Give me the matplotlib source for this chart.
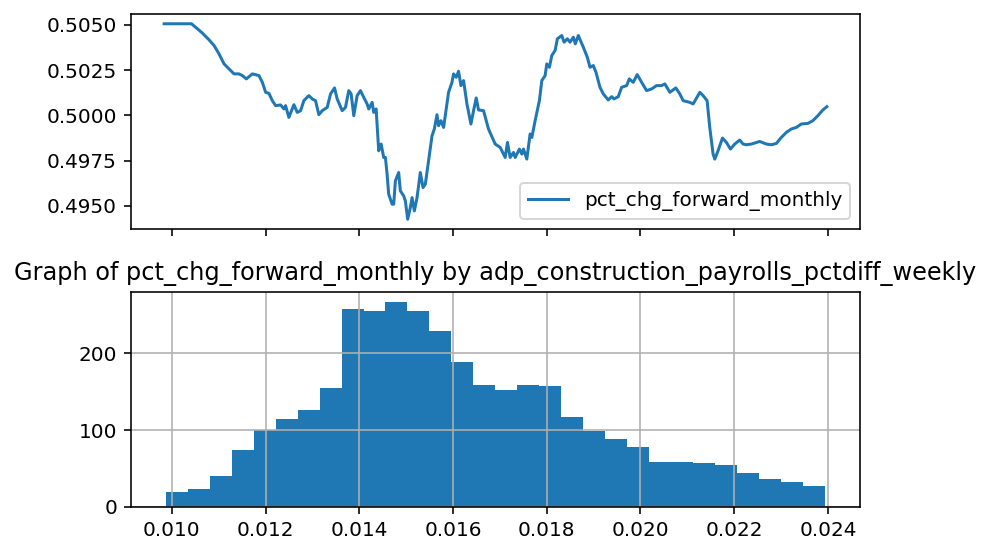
import numpy as np
import matplotlib
matplotlib.use("Agg")
import matplotlib.pyplot as plt

# ---- top panel: line of pct_chg_forward_monthly vs adp_construction_payrolls_pctdiff_weekly
line_x = [
    0.009836, 0.010420, 0.010547, 0.010654, 0.010794, 0.010901, 0.011007, 0.011114, 0.011220, 0.011327,
    0.011433, 0.011506, 0.011591, 0.011719, 0.011859, 0.011932, 0.012002, 0.012072, 0.012145, 0.012215,
    0.012322, 0.012392, 0.012428, 0.012498, 0.012605, 0.012677, 0.012748, 0.012818, 0.012924, 0.012997,
    0.013067, 0.013137, 0.013210, 0.013316, 0.013387, 0.013472, 0.013529, 0.013636, 0.013706, 0.013776,
    0.013827, 0.013883, 0.013955, 0.014026, 0.014096, 0.014168, 0.014203, 0.014275, 0.014309, 0.014360,
    0.014415, 0.014467, 0.014522, 0.014558, 0.014594, 0.014628, 0.014701, 0.014735, 0.014771, 0.014841,
    0.014877, 0.014948, 0.014984, 0.015033, 0.015090, 0.015127, 0.015176, 0.015233, 0.015303, 0.015361,
    0.015410, 0.015480, 0.015553, 0.015602, 0.015659, 0.015693, 0.015744, 0.015800, 0.015906, 0.015979,
    0.016013, 0.016070, 0.016119, 0.016170, 0.016226, 0.016298, 0.016383, 0.016439, 0.016496, 0.016545,
    0.016652, 0.016758, 0.016901, 0.017008, 0.017114, 0.017163, 0.017220, 0.017291, 0.017327, 0.017418,
    0.017470, 0.017504, 0.017576, 0.017646, 0.017683, 0.017753, 0.017844, 0.017896, 0.017966, 0.018002,
    0.018058, 0.018109, 0.018179, 0.018228, 0.018322, 0.018371, 0.018441, 0.018498, 0.018569, 0.018611,
    0.018675, 0.018782, 0.018867, 0.018924, 0.018995, 0.019052, 0.019137, 0.019208, 0.019314, 0.019387,
    0.019436, 0.019527, 0.019599, 0.019706, 0.019762, 0.019847, 0.019932, 0.020026, 0.020132, 0.020239,
    0.020345, 0.020452, 0.020522, 0.020628, 0.020756, 0.020841, 0.020912, 0.021054, 0.021125, 0.021268,
    0.021338, 0.021423, 0.021480, 0.021551, 0.021587, 0.021657, 0.021751, 0.021836, 0.021921, 0.022013,
    0.022119, 0.022190, 0.022262, 0.022369, 0.022545, 0.022688, 0.022794, 0.022901, 0.023007, 0.023114,
    0.023220, 0.023327, 0.023433, 0.023574, 0.023680, 0.023787, 0.023893, 0.023979,
]
line_y = [
    0.505055, 0.505055, 0.504779, 0.504535, 0.504170, 0.503855, 0.503396, 0.502843, 0.502566, 0.502290,
    0.502290, 0.502196, 0.502013, 0.502290, 0.502196, 0.501825, 0.501272, 0.501217, 0.500813, 0.500537,
    0.500575, 0.500354, 0.500537, 0.499889, 0.500592, 0.500166, 0.500260, 0.500813, 0.501090, 0.500907,
    0.500813, 0.500039, 0.500260, 0.500442, 0.501184, 0.501515, 0.500907, 0.500260, 0.500442, 0.501366,
    0.501184, 0.499983, 0.501090, 0.501366, 0.500996, 0.500631, 0.500354, 0.500719, 0.500166, 0.500354,
    0.498048, 0.498418, 0.497677, 0.497677, 0.496759, 0.495653, 0.495100, 0.495100, 0.496388, 0.496847,
    0.495835, 0.495559, 0.495282, 0.494270, 0.494912, 0.495465, 0.494729, 0.495465, 0.496847, 0.496018,
    0.496206, 0.497494, 0.498877, 0.499248, 0.500039, 0.499430, 0.499707, 0.499336, 0.501272, 0.501825,
    0.502290, 0.502102, 0.502434, 0.501643, 0.501919, 0.500631, 0.499524, 0.500260, 0.500962, 0.500299,
    0.500260, 0.499248, 0.498418, 0.498230, 0.497677, 0.498507, 0.497677, 0.497954, 0.497677, 0.498142,
    0.497865, 0.498142, 0.497588, 0.498971, 0.498784, 0.499707, 0.500813, 0.501919, 0.502196, 0.502843,
    0.502655, 0.503302, 0.503579, 0.504226, 0.504408, 0.504038, 0.504226, 0.504038, 0.504314, 0.503949,
    0.504408, 0.503761, 0.503208, 0.502655, 0.502749, 0.502378, 0.501549, 0.501184, 0.500852, 0.501034,
    0.500907, 0.501034, 0.501549, 0.501643, 0.502013, 0.501825, 0.502251, 0.501825, 0.501366, 0.501460,
    0.501643, 0.501643, 0.501737, 0.501272, 0.501515, 0.501184, 0.500813, 0.500719, 0.500631, 0.501272,
    0.501090, 0.500813, 0.499336, 0.497865, 0.497588, 0.498048, 0.498750, 0.498507, 0.498142, 0.498418,
    0.498639, 0.498418, 0.498379, 0.498418, 0.498562, 0.498418, 0.498379, 0.498451, 0.498784, 0.499060,
    0.499248, 0.499336, 0.499524, 0.499558, 0.499707, 0.499983, 0.500299, 0.500481,
]

# ---- bottom panel: histogram (30 bins)
hist_min = 0.00987
hist_max = 0.02394
hist_counts = [20, 23, 40, 74, 100, 114, 126, 155, 257, 255,
               266, 254, 228, 189, 159, 152, 159, 157, 117, 99,
               88, 78, 58, 58, 57, 55, 44, 37, 33, 27]

series_name = "pct_chg_forward_monthly"
title_text = "Graph of pct_chg_forward_monthly by adp_construction_payrolls_pctdiff_weekly"

W, H, DPI = 991, 554, 144
fig = plt.figure(figsize=(W / DPI, H / DPI), dpi=DPI)

ax1 = fig.add_axes([131 / W, 1 - 229 / H, 729 / W, 215 / H])
ax2 = fig.add_axes([131 / W, 1 - 507 / H, 729 / W, 215 / H], sharex=ax1)

ax1.plot(line_x, line_y, color="#1f77b4", label=series_name)
ax1.legend(loc="lower right")
ax1.set_yticks([0.495, 0.4975, 0.5, 0.5025, 0.505])
ax1.yaxis.set_major_formatter(matplotlib.ticker.FormatStrFormatter("%.4f"))
plt.setp(ax1.get_xticklabels(), visible=False)

edges = np.linspace(hist_min, hist_max, len(hist_counts) + 1)
ax2.hist(edges[:-1], bins=edges, weights=hist_counts, color="#1f77b4")
ax2.grid(True)
ax2.set_title(title_text, fontsize=12)
ax2.set_xticks([0.010, 0.012, 0.014, 0.016, 0.018, 0.020, 0.022, 0.024])
ax2.xaxis.set_major_formatter(matplotlib.ticker.FormatStrFormatter("%.3f"))
ax2.set_yticks([0, 100, 200])

fig.savefig("out.png", dpi=DPI)
